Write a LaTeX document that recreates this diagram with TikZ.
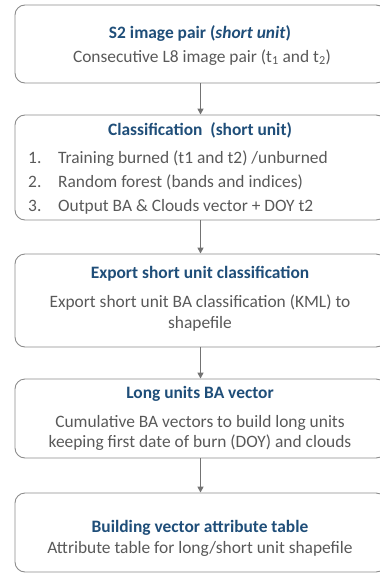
\documentclass[tikz,border=0pt]{standalone}
\usepackage{fontspec}
\setmainfont{Carlito}
\usetikzlibrary{arrows.meta}
\definecolor{ttl}{HTML}{1F4E79}
\definecolor{bdy}{HTML}{595959}
\definecolor{brd}{HTML}{8C8C8C}
\definecolor{arr}{HTML}{737373}
\tikzset{
  box/.style={draw=brd, line width=0.9pt, rounded corners=10pt, minimum width=371pt, inner sep=0pt},
  ttltext/.style={anchor=base, text=ttl, font=\fontsize{17.4}{20}\selectfont\bfseries, inner sep=0pt},
  bdytext/.style={anchor=base, text=bdy, font=\fontsize{17.4}{20}\selectfont, inner sep=0pt},
  lsttext/.style={anchor=base west, text=bdy, font=\fontsize{17.4}{20}\selectfont, inner sep=0pt},
  conn/.style={draw=arr, line width=1.6pt, -{Triangle[length=6pt,width=6pt]}}
}
\begin{document}
\begin{tikzpicture}[x=1pt,y=1pt]
\useasboundingbox (0,0) rectangle (380,-573);
\node[box, minimum height=78pt] (b1) at (200.5,-44) {};
\node[box, minimum height=105pt] (b2) at (200.5,-167.5) {};
\node[box, minimum height=93pt] (b3) at (200.5,-300.5) {};
\node[box, minimum height=79pt] (b4) at (200.5,-418.5) {};
\node[box, minimum height=79pt] (b5) at (200.5,-532.5) {};

\node[ttltext] (t1) at (200,-38.5) {S2 image pair (\textit{short unit})};
\node[bdytext] (d1) at (202,-62) {Consecutive L8 image pair (t\textsubscript{1} and t\textsubscript{2})};

\node[ttltext] (t2) at (200,-135) {Classification\ \ (short unit)};
\node[lsttext] (n21) at (28,-163) {1.};
\node[lsttext] (i21) at (58,-163) {Training burned (t1 and t2) /unburned};
\node[lsttext] (n22) at (28,-187) {2.};
\node[lsttext] (i22) at (58,-187) {Random forest (bands and indices)};
\node[lsttext] (n23) at (28,-211) {3.};
\node[lsttext] (i23) at (58,-211) {Output BA \& Clouds vector + DOY t2};

\node[ttltext] (t3) at (200,-278) {Export short unit classification};
\node[bdytext] (d3a) at (200,-307) {Export short unit BA classification (KML) to};
\node[bdytext] (d3b) at (200,-328) {shapefile};

\node[ttltext] (t4) at (200,-398) {Long units BA vector};
\node[bdytext] (d4a) at (200,-427) {Cumulative BA vectors to build long units};
\node[bdytext] (d4b) at (200,-447) {keeping first date of burn (DOY) and clouds};

\node[ttltext] (t5) at (200,-532) {Building vector attribute table};
\node[bdytext] (d5) at (200,-553) {Attribute table for long/short unit shapefile};

\draw[conn] (b1.south) -- (b2.north);
\draw[conn] (b2.south) -- (b3.north);
\draw[conn] (b3.south) -- (b4.north);
\draw[conn] (b4.south) -- (b5.north);
\end{tikzpicture}
\end{document}
